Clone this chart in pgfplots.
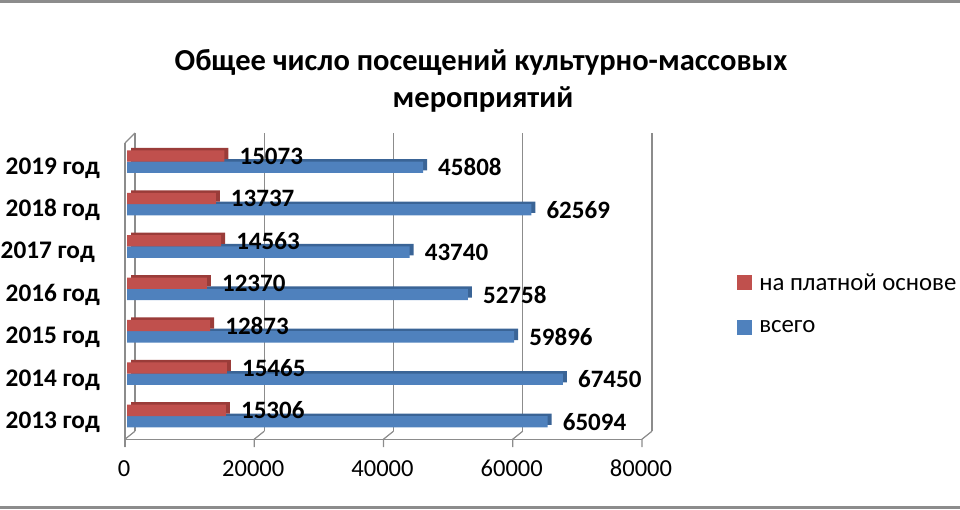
\documentclass[border=0pt]{standalone}
\usepackage{pgfplots}
\pgfplotsset{compat=1.18}
\usepackage{fontspec}
\setmainfont{Carlito}
\usetikzlibrary{calc}
\definecolor{cred}{HTML}{C0504D}
\definecolor{cblue}{HTML}{4F81BD}
\definecolor{cdred}{HTML}{9A3C39}
\definecolor{cdblue}{HTML}{3A6496}
\definecolor{gridc}{HTML}{8C8C8C}
\begin{document}
\begin{tikzpicture}[x=1pt,y=1pt]
\useasboundingbox (0,0) rectangle (960,510);
\draw[gridc, line width=3pt] (0,508.5) -- (960,508.5);
\draw[gridc, line width=2.5pt] (0,2.3) -- (960,2.3);
\node[anchor=base, inner sep=0pt, font=\fontsize{30.5}{36}\selectfont\bfseries] at (481,439.5) {Общее число посещений культурно-массовых};
\node[anchor=base, inner sep=0pt, font=\fontsize{30.5}{36}\selectfont\bfseries] at (483,402.5) {мероприятий};
\begin{axis}[
  at={(127pt,72.8pt)}, anchor=south west,
  scale only axis, width=517pt, height=296.7pt,
  xbar,
  xmin=0, xmax=80000, ymin=-0.5, ymax=6.5,
  clip=false,
  axis line style={draw=none},
  major tick length=0pt,
  xtick={0,20000,40000,60000,80000},
  scaled x ticks=false,
  ytick={0,...,6},
  yticklabels={2013 год,2014 год,2015 год,2016 год,2017 год\hspace*{5pt},2018 год,2019 год},
  /pgf/number format/1000 sep={},
  /pgf/number format/assume math mode=true,
  xticklabel style={font=\fontsize{24.5}{28}\selectfont, anchor=base, inner sep=0pt, yshift=-39.5pt, xshift=-3pt},
  yticklabel style={font=\fontsize{25.3}{28}\selectfont\bfseries, anchor=base east, inner sep=0pt, xshift=-27pt, yshift=-12.5pt},
  legend style={at={(axis description cs:1.18,0.553)}, anchor=north west, draw=none, fill=none, inner sep=0pt, row sep=28.8pt, font=\fontsize{24.8}{29}\selectfont, nodes={inner sep=0pt}, /tikz/every odd column/.append style={column sep=7pt}},
  legend cell align=left,
  legend image code/.code={\fill[#1] (0pt,-8pt) rectangle (15pt,7pt);},
  reverse legend,
  every node near coord/.append style={font=\fontsize{25}{30}\selectfont\bfseries, anchor=west, inner sep=0pt, xshift=15pt, text=black},
]
% back wall grid and floor
\pgfplotsinvokeforeach{0,20000,40000,60000,80000}{
  \draw[gridc, line width=1.2pt] ($(axis cs:#1,-0.5)+(8pt,6pt)$) -- ($(axis cs:#1,6.5)+(8pt,7.5pt)$);
  \draw[gridc, line width=1.2pt] ($(axis cs:#1,-0.5)+(8pt,6pt)$) -- ($(axis cs:#1,-0.5)+(-2pt,-2pt)$) -- ++(0pt,-8pt);
}
\draw[gridc, line width=1.2pt] ($(axis cs:0,-0.5)+(-2pt,-2pt)$) -- ($(axis cs:80000,-0.5)+(-2pt,-2pt)$);
\draw[gridc, line width=1.2pt] ($(axis cs:0,6.5)+(-2pt,-2.5pt)$) -- ($(axis cs:0,-0.5)+(-2pt,-10pt)$);
\draw[gridc, line width=1.2pt] ($(axis cs:0,6.5)+(-2pt,-2.5pt)$) -- ($(axis cs:0,6.5)+(8pt,7.5pt)$);

% всего (blue)
\addplot[bar width=11.3pt, bar shift=-5.65pt, fill=cdblue, draw=none, forget plot, xshift=4pt, yshift=2.5pt]
  coordinates {(65094,0) (67450,1) (59896,2) (52758,3) (43740,4) (62569,5) (45808,6)};
\addplot[bar width=11.3pt, bar shift=-5.65pt, fill=cblue, draw=none, point meta=x, nodes near coords]
  coordinates {(65094,0) (67450,1) (59896,2) (52758,3) (43740,4) (62569,5) (45808,6)};
\addlegendentry{всего}
% на платной основе (red)
\addplot[bar width=11.3pt, bar shift=5.65pt, fill=cdred, draw=none, forget plot, xshift=4pt, yshift=2.5pt]
  coordinates {(15306,0) (15465,1) (12873,2) (12370,3) (14563,4) (13737,5) (15073,6)};
\addplot[bar width=11.3pt, bar shift=5.65pt, fill=cred, draw=none, point meta=x, nodes near coords]
  coordinates {(15306,0) (15465,1) (12873,2) (12370,3) (14563,4) (13737,5) (15073,6)};
\addlegendentry{на платной основе}
\end{axis}
\end{tikzpicture}
\end{document}
